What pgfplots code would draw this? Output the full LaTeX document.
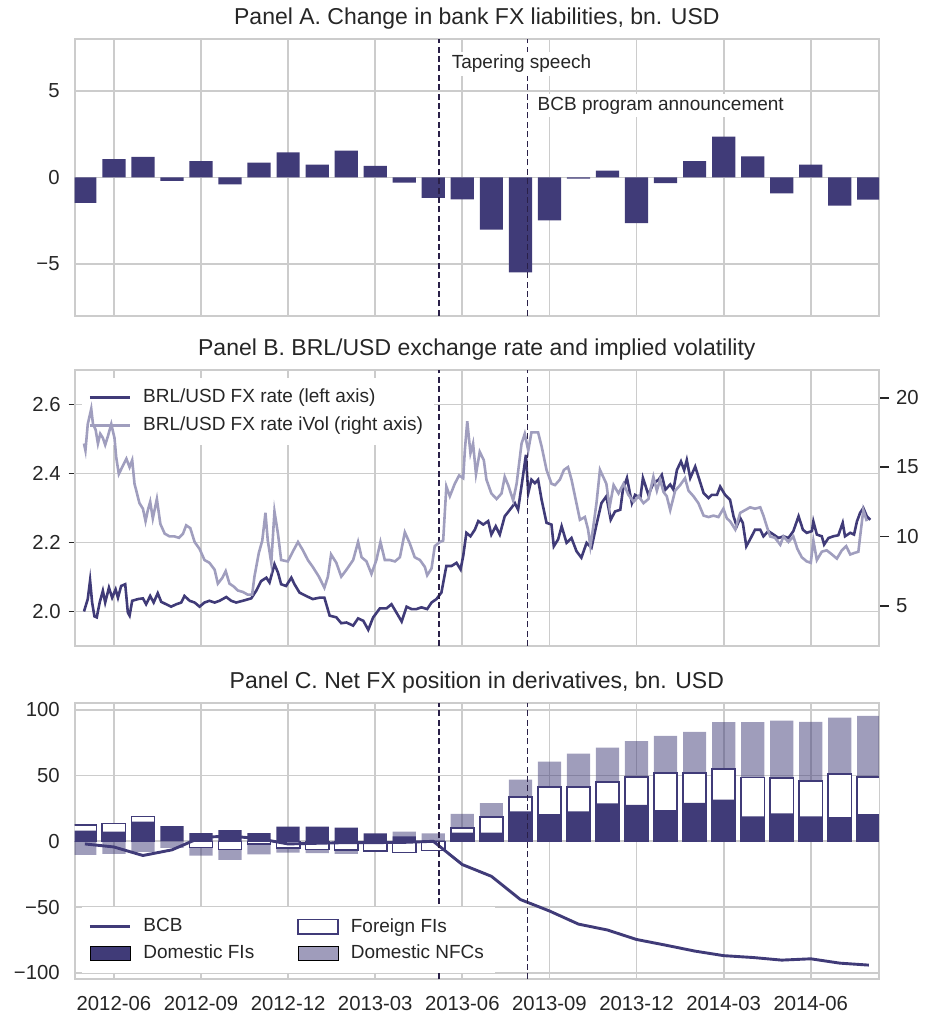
\documentclass[border=0pt]{standalone}
\usepackage{fontspec}
\setmainfont{Liberation Sans}
\usepackage{pgfplots}
\pgfplotsset{compat=1.18}
\definecolor{dk}{RGB}{64,59,120}
\definecolor{lt}{RGB}{160,158,190}
\definecolor{gridc}{RGB}{204,204,204}
\definecolor{txt}{RGB}{38,38,38}
\definecolor{vl}{RGB}{42,32,72}
\newcommand{\tickfont}{\fontsize{10.15}{12}\selectfont}
\newcommand{\titlefont}{\fontsize{11.5}{13.8}\selectfont}
\newcommand{\legfont}{\fontsize{9.5}{11.4}\selectfont}
\pgfplotsset{
  base/.style={
    scale only axis, width=402.15pt, height=138pt,
    xmin=3.65, xmax=31.35,
    axis line style={draw=gridc, line width=1pt},
    grid=major, grid style={draw=gridc, line width=0.85pt},
    major tick length=0pt,
    xtick={5,8,11,14,17,20,23,26,29},
    ticklabel style={font=\tickfont, text=txt},
    yticklabel style={xshift=-4pt},
    title style={font=\titlefont, text=txt, at={(0.5,1)}, anchor=base, yshift=1.5pt},
  },
  vline/.style={vl, line width=0.8pt, dash pattern=on 3pt off 1.7pt, forget plot},
  lineleg/.style={legend image code/.code={\draw[##1] (0pt,0pt) -- (20pt,0pt);}},
  areleg/.style={legend image code/.code={\path[##1] (0pt,-3.6pt) rectangle (20pt,3.6pt);}},
  mybar/.style={ybar, bar width=0.8, bar shift=0pt, forget plot},
}
\begin{document}
\begin{tikzpicture}
\useasboundingbox (0,0) rectangle (462.5pt,-509.5pt);
% ---------------- Panel A
\begin{axis}[base, at={(37.35pt,-19.5pt)}, anchor=north west, height=138.35pt,
  ymin=-8, ymax=8, ytick={-5,0,5}, yticklabels={−5,0,5}, xticklabels={},
  title={Panel A. Change in bank FX liabilities, bn. USD}]
\addplot[mybar, fill=dk, draw=none] coordinates {
(4,-1.48) (5,1.06) (6,1.18) (7,-0.21) (8,0.94) (9,-0.40) (10,0.85) (11,1.45) (12,0.73) (13,1.54) (14,0.67) (15,-0.31) (16,-1.19) (17,-1.27) (18,-3.02) (19,-5.49) (20,-2.49) (21,-0.07) (22,0.39) (23,-2.64) (24,-0.33) (25,0.94) (26,2.35) (27,1.21) (28,-0.92) (29,0.73) (30,-1.64) (31,-1.29)};
\addplot[vline] coordinates {(16.19,-8) (16.19,8)};
\addplot[vline] coordinates {(19.25,-8) (19.25,8)};
\node[anchor=west, fill=white, inner sep=1.5pt, font=\legfont, text=txt] at (axis cs:16.52,6.57) {Tapering speech};
\node[anchor=west, fill=white, inner sep=1.5pt, font=\legfont, text=txt] at (axis cs:19.48,4.14) {BCB program announcement};
\end{axis}
% ---------------- Panel B (left axis)
\begin{axis}[base, at={(37.35pt,-185pt)}, anchor=north west,
  ymin=1.9, ymax=2.7, ytick={2.0,2.2,2.4,2.6}, yticklabels={2.0,2.2,2.4,2.6}, xticklabels={},
  ytick pos=left, major tick length=3pt, tick align=outside,
  xtick style={draw=none}, ytick style={draw=txt, line width=0.8pt},
  yticklabel style={xshift=3.5pt},
  title={Panel B. BRL/USD exchange rate and implied volatility},
  legend style={at={(0.008,0.972)}, anchor=north west, draw=none, fill=white,
    font=\legfont, text=txt, row sep=1.5pt, inner sep=3.5pt,
    /tikz/every odd column/.append style={column sep=4pt}},
  legend cell align=left]
\addplot[dk, line width=1.3pt, lineleg] coordinates {
(3.97,2.000) (4.10,2.036) (4.18,2.090) (4.25,2.026) (4.33,1.986) (4.41,1.983) (4.51,2.026) (4.62,2.060) (4.70,2.026) (4.83,2.069) (4.94,2.040) (5.06,2.064) (5.14,2.040) (5.25,2.074) (5.39,2.079) (5.48,1.997) (5.54,1.988) (5.63,2.031) (5.83,2.036) (6.00,2.038) (6.11,2.021) (6.25,2.045) (6.37,2.026) (6.51,2.053) (6.63,2.028) (6.80,2.021) (6.97,2.014) (7.15,2.021) (7.32,2.026) (7.43,2.045) (7.61,2.031) (7.78,2.026) (7.95,2.014) (8.12,2.026) (8.29,2.031) (8.47,2.026) (8.64,2.031) (8.87,2.042) (9.04,2.031) (9.21,2.026) (9.44,2.031) (9.73,2.038) (9.90,2.060) (10.07,2.088) (10.25,2.098) (10.36,2.084) (10.53,2.137) (10.65,2.113) (10.76,2.079) (10.93,2.074) (11.11,2.098) (11.22,2.079) (11.39,2.055) (11.62,2.045) (11.85,2.036) (12.08,2.040) (12.25,2.040) (12.43,1.988) (12.66,1.983) (12.83,1.966)
(13.01,1.968) (13.24,1.959) (13.41,1.980) (13.59,1.973) (13.76,1.947) (13.93,1.983) (14.16,2.009) (14.39,2.009) (14.56,2.021) (14.73,1.997) (14.91,1.971) (15.08,2.014) (15.25,2.007) (15.42,2.007) (15.59,2.012) (15.79,2.007) (15.94,2.026) (16.11,2.036) (16.28,2.055) (16.45,2.132) (16.63,2.132) (16.80,2.141) (16.94,2.122) (17.03,2.161) (17.14,2.228) (17.28,2.218) (17.43,2.237) (17.55,2.262) (17.72,2.252) (17.89,2.262) (18.00,2.223) (18.15,2.247) (18.29,2.223) (18.46,2.276) (18.64,2.295) (18.81,2.314) (18.92,2.295) (19.07,2.382) (19.19,2.454) (19.27,2.343) (19.38,2.382) (19.50,2.372) (19.61,2.382) (19.73,2.324) (19.90,2.257) (20.07,2.252) (20.15,2.189) (20.30,2.209) (20.42,2.247) (20.59,2.199) (20.76,2.213) (20.93,2.175) (21.10,2.156) (21.28,2.199) (21.45,2.185) (21.62,2.252) (21.79,2.314) (21.96,2.334)
(22.11,2.266) (22.26,2.290) (22.44,2.295) (22.53,2.353) (22.67,2.387) (22.84,2.314) (22.95,2.338) (23.13,2.329) (23.22,2.387) (23.41,2.338) (23.58,2.372) (23.76,2.382) (23.87,2.396) (23.99,2.353) (24.16,2.368) (24.27,2.353) (24.39,2.410) (24.53,2.435) (24.64,2.410) (24.73,2.439) (24.85,2.387) (25.02,2.420) (25.13,2.391) (25.31,2.343) (25.48,2.329) (25.59,2.338) (25.77,2.338) (25.88,2.362) (26.05,2.338) (26.22,2.324) (26.34,2.276) (26.45,2.247) (26.57,2.271) (26.66,2.257) (26.78,2.189) (26.91,2.209) (27.08,2.237) (27.26,2.237) (27.37,2.218) (27.54,2.233) (27.72,2.223) (27.89,2.213) (28.06,2.218) (28.23,2.213) (28.40,2.233) (28.58,2.276) (28.73,2.237) (28.86,2.228) (29.04,2.233) (29.09,2.261) (29.21,2.223) (29.38,2.218) (29.46,2.194) (29.61,2.213) (29.78,2.218) (29.95,2.221) (30.10,2.257) (30.18,2.218) (30.36,2.228) (30.49,2.223) (30.59,2.261) (30.70,2.286) (30.81,2.300) (30.93,2.276) (31.05,2.266)};
\addlegendentry{BRL/USD FX rate (left axis)}
\addlegendimage{lineleg, lt, line width=1.3pt}
\addlegendentry{BRL/USD FX rate iVol (right axis)}
\addplot[vline] coordinates {(16.19,1.9) (16.19,2.7)};
\addplot[vline] coordinates {(19.25,1.9) (19.25,2.7)};
\end{axis}
% ---------------- Panel B (right axis)
\begin{axis}[scale only axis, width=402.15pt, height=138pt, at={(37.35pt,-185pt)}, anchor=north west,
  xmin=3.65, xmax=31.35, ymin=2.1, ymax=22, axis x line=none, axis y line*=right,
  axis line style={draw=gridc, line width=1pt},
  ytick={5,10,15,20}, yticklabels={5,10,15,20}, tick align=outside, major tick length=5pt,
  ytick style={draw=txt, line width=0.8pt}, ticklabel style={font=\tickfont, text=txt}]
\addplot[lt, line width=1.3pt] coordinates {
(3.97,16.7) (4.02,16.2) (4.10,18.1) (4.22,19.2) (4.28,18.1) (4.37,17.7) (4.45,16.7) (4.53,17.4) (4.62,17.1) (4.70,16.6) (4.79,17.2) (4.91,18.1) (5.02,17.1) (5.08,15.7) (5.17,14.5) (5.31,15.1) (5.43,15.6) (5.54,15.0) (5.63,15.5) (5.71,13.8) (5.88,12.4) (6.00,12.0) (6.09,11.1) (6.17,11.9) (6.25,12.5) (6.34,11.3) (6.48,12.7) (6.60,10.9) (6.75,10.2) (6.92,10.0) (7.09,10.0) (7.24,9.9) (7.38,10.2) (7.49,10.8) (7.63,10.6) (7.78,9.6) (7.95,9.1) (8.12,8.3) (8.29,8.1) (8.47,7.6) (8.58,6.6) (8.73,7.0) (8.85,7.5) (8.98,6.6) (9.12,6.4) (9.27,6.1) (9.44,6.0) (9.61,5.8) (9.76,5.8) (9.84,7.1) (9.99,8.8) (10.11,9.7) (10.22,11.7) (10.30,9.7) (10.42,8.1) (10.53,11.8) (10.65,10.2) (10.76,8.3) (10.99,8.2) (11.16,8.9) (11.34,9.6) (11.51,9.0) (11.68,8.3) (11.85,7.8) (12.06,7.1) (12.25,6.3) (12.37,7.1) (12.48,8.7) (12.66,8.1) (12.83,7.1)
(13.01,7.6) (13.24,8.3) (13.41,9.6) (13.53,8.5) (13.70,8.2) (13.87,7.3) (14.04,8.3) (14.18,9.6) (14.33,8.3) (14.50,8.3) (14.68,8.2) (14.85,8.5) (15.02,10.3) (15.19,9.5) (15.36,8.5) (15.54,8.3) (15.71,7.8) (15.79,7.2) (15.94,7.7) (16.05,9.3) (16.23,9.6) (16.34,9.7) (16.45,13.6) (16.57,12.9) (16.74,13.8) (16.89,14.4) (17.03,14.2) (17.09,16.3) (17.17,18.3) (17.28,16.0) (17.37,16.7) (17.47,14.5) (17.60,16.1) (17.74,15.5) (17.83,14.1) (18.00,13.1) (18.18,12.7) (18.35,13.1) (18.46,14.3) (18.58,13.7) (18.75,12.6) (18.87,13.8) (19.04,16.7) (19.15,17.4) (19.27,16.2) (19.38,17.5) (19.61,17.5) (19.73,16.5) (19.90,14.8) (20.07,13.8) (20.19,13.7) (20.36,14.1) (20.50,14.8) (20.64,15.0) (20.76,14.1) (20.91,12.6) (21.05,11.2) (21.22,11.4) (21.33,10.5) (21.41,9.3) (21.51,10.7) (21.62,12.4) (21.74,14.8) (21.85,14.3) (21.96,13.8)
(22.07,12.1) (22.21,13.7) (22.38,13.1) (22.55,13.8) (22.72,13.0) (22.90,12.5) (23.07,12.9) (23.24,12.4) (23.41,12.7) (23.58,14.3) (23.70,13.3) (23.81,14.1) (23.93,13.2) (24.04,12.9) (24.16,11.9) (24.33,13.3) (24.50,13.7) (24.67,14.2) (24.79,13.3) (24.96,12.9) (25.13,12.4) (25.31,11.5) (25.48,11.4) (25.65,11.5) (25.82,11.4) (25.99,12.0) (26.11,11.3) (26.22,11.1) (26.40,10.5) (26.57,11.7) (26.74,11.9) (26.91,12.1) (27.08,12.0) (27.26,12.1) (27.37,11.5) (27.49,10.7) (27.60,10.0) (27.77,9.9) (27.95,9.4) (28.06,10.0) (28.23,9.6) (28.40,10.0) (28.54,9.1) (28.69,8.5) (28.86,8.2) (29.00,8.1) (29.09,9.7) (29.21,8.3) (29.38,8.9) (29.55,9.0) (29.73,8.7) (29.90,8.4) (30.07,9.0) (30.22,9.3) (30.36,8.7) (30.49,8.8) (30.64,8.9) (30.70,10.0) (30.81,11.9) (30.93,11.1)};
\end{axis}
% ---------------- Panel C
\begin{axis}[base, at={(37.35pt,-351.65pt)}, anchor=north west,
  ymin=-105, ymax=105, ytick={-100,-50,0,50,100}, yticklabels={−100,−50,0,50,100},
  xticklabels={2012-06,2012-09,2012-12,2013-03,2013-06,2013-09,2013-12,2014-03,2014-06},
  xticklabel style={yshift=-5pt},
  title={Panel C. Net FX position in derivatives, bn. USD},
  legend columns=2,
  legend style={at={(0.008,0.022)}, anchor=south west, draw=none, fill=white,
    font=\legfont, text=txt, row sep=1pt, inner sep=3.5pt,
    /tikz/every odd column/.append style={column sep=4pt},
    /tikz/every even column/.append style={column sep=19.5pt}},
  legend cell align=left]
\addplot[mybar, fill=dk, fill opacity=0.5, draw=none] coordinates {
(4,-10.4) (5,-9.6) (6,-8) (7,-5) (8,-10.9) (9,-14.2) (10,-9.9) (11,-8.6) (12,-8.9) (13,-9.6) (14,-7.5) (15,7.3) (16,6.1) (17,20.8) (18,29.0) (19,47.0) (20,60.6) (21,66.7) (22,71.2) (23,76.3) (24,80.3) (25,83.3) (26,90.7) (27,90.7) (28,91.9) (29,90.9) (30,94.2) (31,95.5)};
\addplot[mybar, fill=white, draw=dk, line width=0.8pt] coordinates {
(4,12.2) (5,13.4) (6,19.0) (8,-4.6) (9,-6.3) (10,-2) (11,-5.1) (12,-6.3) (13,-6.6) (14,-7.3) (15,-8.4) (16,-7.1) (17,9.9) (18,18.7) (19,33.6) (20,41.4) (21,41.4) (22,45.2) (23,49.0) (24,51.8) (25,51.8) (26,55.1) (27,48.7) (28,48.2) (29,46.0) (30,51.3) (31,49.0)};
\addplot[mybar, fill=dk, draw=none] coordinates {
(4,8.1) (5,7.3) (6,14.9) (7,11.6) (8,6.3) (9,8.6) (10,6.3) (11,11.1) (12,11.1) (13,10.4) (14,6.1) (15,3.8) (16,0.5) (17,6.6) (18,6.6) (19,22.7) (20,20.7) (21,22.7) (22,28.8) (23,27.8) (24,23.7) (25,29.3) (26,31.8) (27,18.9) (28,21.2) (29,18.9) (30,18.4) (31,20.7)};
\addplot[dk, line width=1.45pt, forget plot] coordinates {
(4,-2) (5,-4.3) (6,-10.8) (7,-6.5) (8,3) (9,4) (10,2) (11,-2) (12,-1.5) (13,-1) (14,-1) (15,-0.8) (16,0) (17,-17.7) (18,-26.6) (19,-44.3) (20,-53) (21,-63) (22,-67.5) (23,-74.7) (24,-79) (25,-83.5) (26,-87) (27,-88.4) (28,-90.4) (29,-89.4) (30,-92.7) (31,-94.2)};
\addplot[vline] coordinates {(16.19,-105) (16.19,105)};
\addplot[vline] coordinates {(19.25,-105) (19.25,105)};
\addlegendimage{lineleg, dk, line width=1.45pt}
\addlegendentry{BCB}
\addlegendimage{areleg, fill=white, draw=dk, line width=0.8pt}
\addlegendentry{Foreign FIs}
\addlegendimage{areleg, fill=dk}
\addlegendentry{Domestic FIs}
\addlegendimage{areleg, fill=dk, fill opacity=0.5}
\addlegendentry{Domestic NFCs}
\end{axis}
\end{tikzpicture}
\end{document}
